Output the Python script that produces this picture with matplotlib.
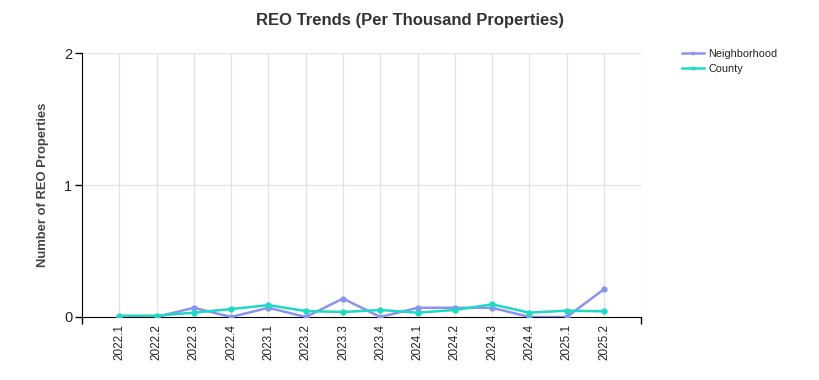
import matplotlib
matplotlib.use("Agg")
import matplotlib.pyplot as plt
import numpy as np

categories = ["2022.1", "2022.2", "2022.3", "2022.4", "2023.1", "2023.2", "2023.3",
              "2023.4", "2024.1", "2024.2", "2024.3", "2024.4", "2025.1", "2025.2"]
neighborhood = [0.0, 0.0, 0.07, 0.0, 0.07, 0.0, 0.14, 0.0, 0.07, 0.07, 0.07, 0.0, 0.0, 0.21]
county = [0.01, 0.01, 0.033, 0.06, 0.09, 0.045, 0.038, 0.053, 0.033, 0.053, 0.096, 0.033, 0.048, 0.043]
y_ticks = [0, 1, 2]

plt.rcParams['font.family'] = ['Liberation Sans', 'DejaVu Sans']

fig = plt.figure(figsize=(8.2, 3.8), dpi=100)
ax = fig.add_axes([0.1, 0.1658, 0.682, 0.6947])

x = np.arange(len(categories))
c_n = "#8a94ee"
c_c = "#1fd8c6"
ax.plot(x, neighborhood, color=c_n, lw=1.8, marker='o', ms=3.5, label="Neighborhood", zorder=3)
ax.plot(x, county, color=c_c, lw=1.8, marker='o', ms=3.5, label="County", zorder=3)

ax.set_xlim(-1, len(categories))
ax.set_ylim(0, 2)
ax.set_yticks(y_ticks)
ax.set_yticklabels([str(t) for t in y_ticks], fontsize=10.5, color="#222222")

ax.set_xticks(x)
ax.set_xticklabels(categories, rotation=90, fontsize=8.5, color="#222222")
ax.tick_params(axis='x', length=0, pad=5)
ax.tick_params(axis='y', length=5, width=1, pad=2)
ax.set_xticks([-1, len(categories)], minor=True)
ax.tick_params(axis='x', which='minor', length=5, width=1)

for xi in list(x) + [len(categories)]:
    ax.axvline(xi, color="#e2e2e2", lw=0.9, zorder=0)
for yi in [1, 2]:
    ax.axhline(yi, color="#e2e2e2", lw=0.9, zorder=0)

for s in ['top', 'right']:
    ax.spines[s].set_visible(False)
ax.spines['left'].set_color('black')
ax.spines['bottom'].set_color('black')

ax.set_ylabel("Number of REO Properties", fontsize=9.4, fontweight='bold', color="#444444", labelpad=11)
fig.text(0.5, 0.945, "REO Trends (Per Thousand Properties)", ha='center', va='center',
         fontsize=12, fontweight='bold', color="#333333")

leg = fig.legend(loc='upper left', bbox_to_anchor=(0.827, 0.882), frameon=False,
                 fontsize=7.8, handlelength=2.0, handletextpad=0.4, labelspacing=0.45,
                 borderaxespad=0, markerscale=0.5)
for t in leg.get_texts():
    t.set_color("#222222")

fig.savefig("out.png", dpi=100, facecolor="white")
